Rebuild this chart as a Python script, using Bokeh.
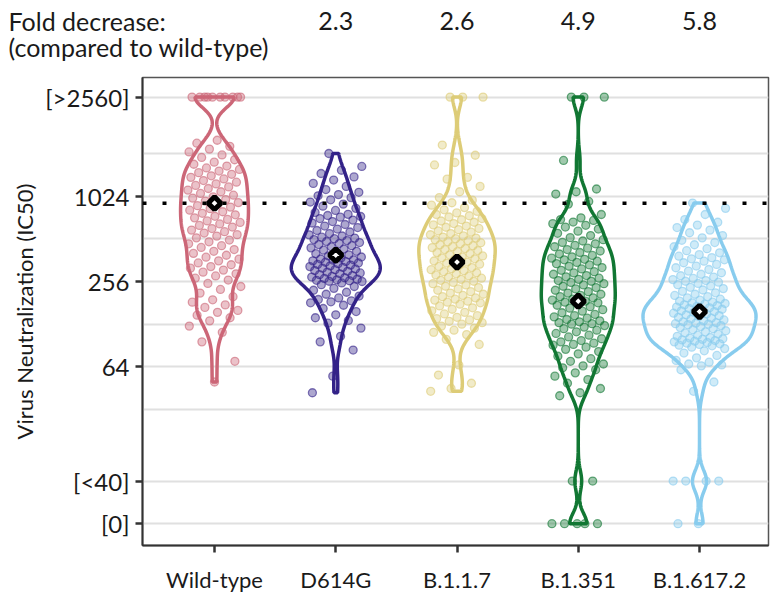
import numpy as np
from bokeh.plotting import figure
from bokeh.layouts import column
from bokeh.models import FixedTicker, Range1d, Span
from bokeh.core.properties import value
from bokeh.embed import file_html
from bokeh.resources import INLINE

# ---------------- data ----------------
categories = ["Wild-type", "D614G", "B.1.1.7", "B.1.351", "B.1.617.2"]
colors = ["#CC6677", "#332288", "#DDCC77", "#117733", "#88CCEE"]
geo_means = [913, 393, 351, 186, 157]
fold_positions = [2, 3, 4, 5]
fold_decrease = ["2.3", "2.6", "4.9", "5.8"]
header_lines = ["Fold decrease:", "(compared to wild-type)"]
y_ticks = [5, 10, 64, 256, 1024, 5120]
y_tick_labels = ["[0]", "[<40]", "64", "256", "1024", "[>2560]"]
grid_levels = [5, 10, 32, 64, 128, 256, 512, 1024, 2048, 5120]

wild_type = [5120] * 10 + [
    2540, 2420, 2300, 2200, 2100,
    2000, 1920, 1850, 1780, 1720, 1670, 1620, 1580, 1540, 1500, 1460, 1425,
    1390, 1355, 1320, 1285, 1250, 1220, 1190, 1160, 1130, 1100, 1070, 1040,
    1012, 992, 968, 945, 922, 900, 878, 857, 836, 815, 795, 775, 756, 738,
    720, 702, 685, 668, 652, 636, 620, 605, 590, 575, 562, 548, 535, 520,
    502, 488, 472, 458, 445, 430, 418, 404, 392, 380, 368, 358, 346, 336,
    326, 318, 308, 298, 290, 280, 270, 262,
    248, 236, 225, 212, 200, 190, 183, 175, 168, 160, 155, 148, 142, 135,
    124, 112, 96, 70, 50]

d614g = [
    2048, 1660, 1560, 1480,
    1400, 1330, 1260, 1200, 1140, 1090, 1050, 1030,
    1000, 965, 930, 900, 870, 840, 812, 786, 762, 748, 736, 728,
    712, 694, 678, 662, 646, 630, 615, 600, 586, 572, 558, 546, 536, 526, 518, 513,
    506, 498, 490, 482, 474, 466, 458, 450, 442, 434, 426, 418, 410, 402, 395,
    388, 381, 375, 369, 364, 362,
    358, 354, 350, 346, 342, 338, 334, 330, 326, 322, 318, 314, 310, 306, 302,
    298, 294, 290, 286, 282, 278, 275, 272, 269, 266, 263, 261, 259, 257, 256,
    250, 243, 236, 229, 222, 215, 208, 202, 196, 191, 187, 184, 181,
    174, 165, 157, 149, 142, 136, 130,
    120, 105, 96, 84, 55, 42]

b117 = [5120] * 3 + [
    2350, 1990, 1770, 1700, 1390, 1350, 1200, 1100,
    1000, 960, 920, 885, 850, 820, 800, 780, 760, 745, 730,
    712, 698, 684, 670, 656, 642, 630, 618, 606, 594, 582, 570, 558, 547, 537,
    527, 518, 513,
    505, 497, 489, 481, 473, 465, 458, 451, 444, 437, 430, 423, 416, 409, 402,
    395, 388, 382, 376, 370, 365,
    357, 351, 345, 339, 333, 327, 321, 315, 310, 305, 300, 295, 290, 285, 280,
    275, 270, 265, 261, 257,
    252, 247, 242, 237, 232, 227, 222, 217, 212, 208, 204, 200, 196, 192, 189,
    186, 183, 181,
    177, 172, 167, 163, 159, 155, 151, 147, 143, 140, 137, 134, 131, 128,
    124, 120, 116, 112, 108, 100, 92,
    66, 56, 49, 45, 43]

b1351 = [5120] * 3 + [
    1830, 1150, 1100, 1060, 940, 900, 760, 720, 700,
    690, 672, 655, 638, 620, 600, 580, 560, 540, 522,
    505, 494, 483, 472, 461, 450, 440, 430, 420, 410, 400, 391, 382, 374, 367, 364,
    356, 349, 342, 335, 328, 321, 314, 307, 300, 294, 288, 282, 276, 270, 265,
    260, 257,
    252, 247, 242, 237, 232, 227, 222, 217, 212, 208, 204, 200, 196, 192, 189,
    186, 183, 181,
    178, 174, 170, 166, 162, 158, 154, 150, 147, 144, 141, 138, 135, 133, 131,
    129, 128,
    125, 122, 119, 116, 113, 110, 107, 104, 101, 98, 96, 94, 92, 91,
    88, 85, 82, 79, 76, 73, 70, 67, 65,
    63, 61, 58, 55, 52, 49,
    45, 42, 40,
    10, 10, 5, 5, 5, 5, 5]

b16172 = [
    915, 840, 760,
    700, 670, 640, 615, 590, 565, 540, 520,
    500, 482, 465, 450, 436, 422, 408, 396, 386, 377, 370, 364,
    356, 347, 338, 329, 320, 311, 303, 295, 288, 281, 275, 269, 264, 260, 257,
    253, 248, 243, 238, 233, 228, 223, 218, 213, 208, 204, 200, 196, 192, 189,
    186, 183, 181,
    179, 177, 175, 173, 171, 169, 167, 165, 163, 161, 159, 157, 155, 153, 151,
    149, 147, 145, 143, 141, 139, 137, 135, 133, 131, 130, 129, 128,
    127, 125, 123, 121, 119, 117, 115, 113, 111, 109, 107, 105, 103, 102, 101,
    100, 99, 98, 97, 96, 95, 94, 93, 92, 91, 90,
    88, 86, 83, 80, 77, 74, 71, 69, 67, 66, 65,
    61, 50, 43,
    10, 10, 10, 10, 5, 5]

groups = [wild_type, d614g, b117, b1351, b16172]

# ---------------- styles / layout ----------------
FONT = "Lato"
TXT = "#1a1a1a"
W = 775
HEADER_H = 76
MAIN_H = 519
LEFT, RIGHT = 142, 7
X0, X1 = 0.406, 5.569
violin_half_width = [0.28, 0.367, 0.315, 0.305, 0.466]   # x-units
bw = 0.25          # KDE bandwidth in log2 units
jit = 0.22

ppu = (W - LEFT - RIGHT) / (X1 - X0)

# ---------------- header ----------------
hdr = figure(width=W, height=HEADER_H,
             x_range=Range1d(X0 - LEFT / ppu, X1 + RIGHT / ppu),
             y_range=Range1d(HEADER_H, 0),
             x_axis_location=None, y_axis_location=None,
             output_backend="svg", toolbar_location=None, min_border=0)
if "frame_align" in hdr.properties():
    hdr.frame_align = False
hdr.outline_line_color = None
hdr.grid.grid_line_color = None
hdr.background_fill_color = "white"
hdr.border_fill_color = "white"
hx_left = X0 - LEFT / ppu + 8 / ppu
hdr.text(x=[hx_left, hx_left], y=[20, 46], text=header_lines,
         text_font=value(FONT), text_font_size="25px", text_color=TXT,
         text_align="left", text_baseline="alphabetic")
hdr.text(x=fold_positions, y=[20] * len(fold_positions), text=fold_decrease,
         text_font=value(FONT), text_font_size="25px", text_color=TXT,
         text_align="center", text_baseline="alphabetic")

# ---------------- main plot ----------------
p = figure(width=W, height=MAIN_H, y_axis_type="log",
           x_range=Range1d(X0, X1), y_range=Range1d(3.51, 7040),
           output_backend="svg", toolbar_location=None,
           min_border_left=LEFT, min_border_right=RIGHT,
           min_border_top=1, min_border_bottom=49)
if "frame_align" in p.properties():
    p.frame_align = False
p.background_fill_color = "white"
p.border_fill_color = "white"
p.outline_line_color = "#555555"
p.outline_line_width = 1.5

p.xgrid.grid_line_color = None
p.ygrid.ticker = FixedTicker(ticks=grid_levels)
p.ygrid.grid_line_color = "#e0e0e0"
p.ygrid.grid_line_width = 2

for ax in (p.xaxis[0], p.yaxis[0]):
    ax.axis_line_color = "#333333"
    ax.axis_line_width = 2
    ax.major_tick_line_color = "#333333"
    ax.major_tick_line_width = 2.5
    ax.major_tick_out = 7
    ax.major_tick_in = 0
    ax.minor_tick_line_color = None
    ax.major_label_text_font = FONT
    ax.major_label_text_color = TXT

p.xaxis.major_label_text_font_size = "22px"
p.xaxis.ticker = FixedTicker(ticks=[1, 2, 3, 4, 5])
p.xaxis.major_label_overrides = {i + 1: c for i, c in enumerate(categories)}
p.xaxis.major_label_standoff = 13

p.yaxis.major_label_text_font_size = "24px"
p.yaxis.ticker = FixedTicker(ticks=y_ticks)
p.yaxis.major_label_overrides = dict(zip(y_ticks, y_tick_labels))
p.yaxis.major_label_standoff = 6
p.yaxis.axis_label = "Virus Neutralization (IC50)"
p.yaxis.axis_label_text_font = FONT
p.yaxis.axis_label_text_font_size = "22px"
p.yaxis.axis_label_text_font_style = "normal"
p.yaxis.axis_label_text_color = TXT
p.yaxis.axis_label_standoff = 4

for i, vals in enumerate(groups):
    cx = i + 1
    c = colors[i]
    v = np.array(vals, dtype=float)
    n = len(v)
    k = np.arange(n)
    xj = cx + (((k * 0.6180339887 + 0.37) % 1.0) - 0.5) * 2 * jit
    p.scatter(xj, v, size=8, fill_color=c, fill_alpha=0.4,
              line_color=c, line_alpha=0.6, line_width=1.3)

    lv = np.log2(v)
    g = np.linspace(lv.min(), lv.max(), 300)
    dens = np.exp(-0.5 * ((g[:, None] - lv[None, :]) / bw) ** 2).sum(axis=1)
    hw = dens / dens.max() * violin_half_width[i]
    xs = np.concatenate([cx + hw, cx - hw[::-1]])
    ys = 2 ** np.concatenate([g, g[::-1]])
    p.patch(xs, ys, fill_color=None, line_color=c, line_width=3.5)

ref = Span(location=geo_means[0], dimension="width", line_color="black",
           line_dash="4 16", line_width=3.5)
p.add_layout(ref)

p.scatter([1, 2, 3, 4, 5], geo_means, marker="square", angle=np.pi / 4, size=9,
          fill_color="white", line_color="black", line_width=5)

layout = column(hdr, p, spacing=0)
open("out.html", "w").write(file_html(layout, INLINE))
